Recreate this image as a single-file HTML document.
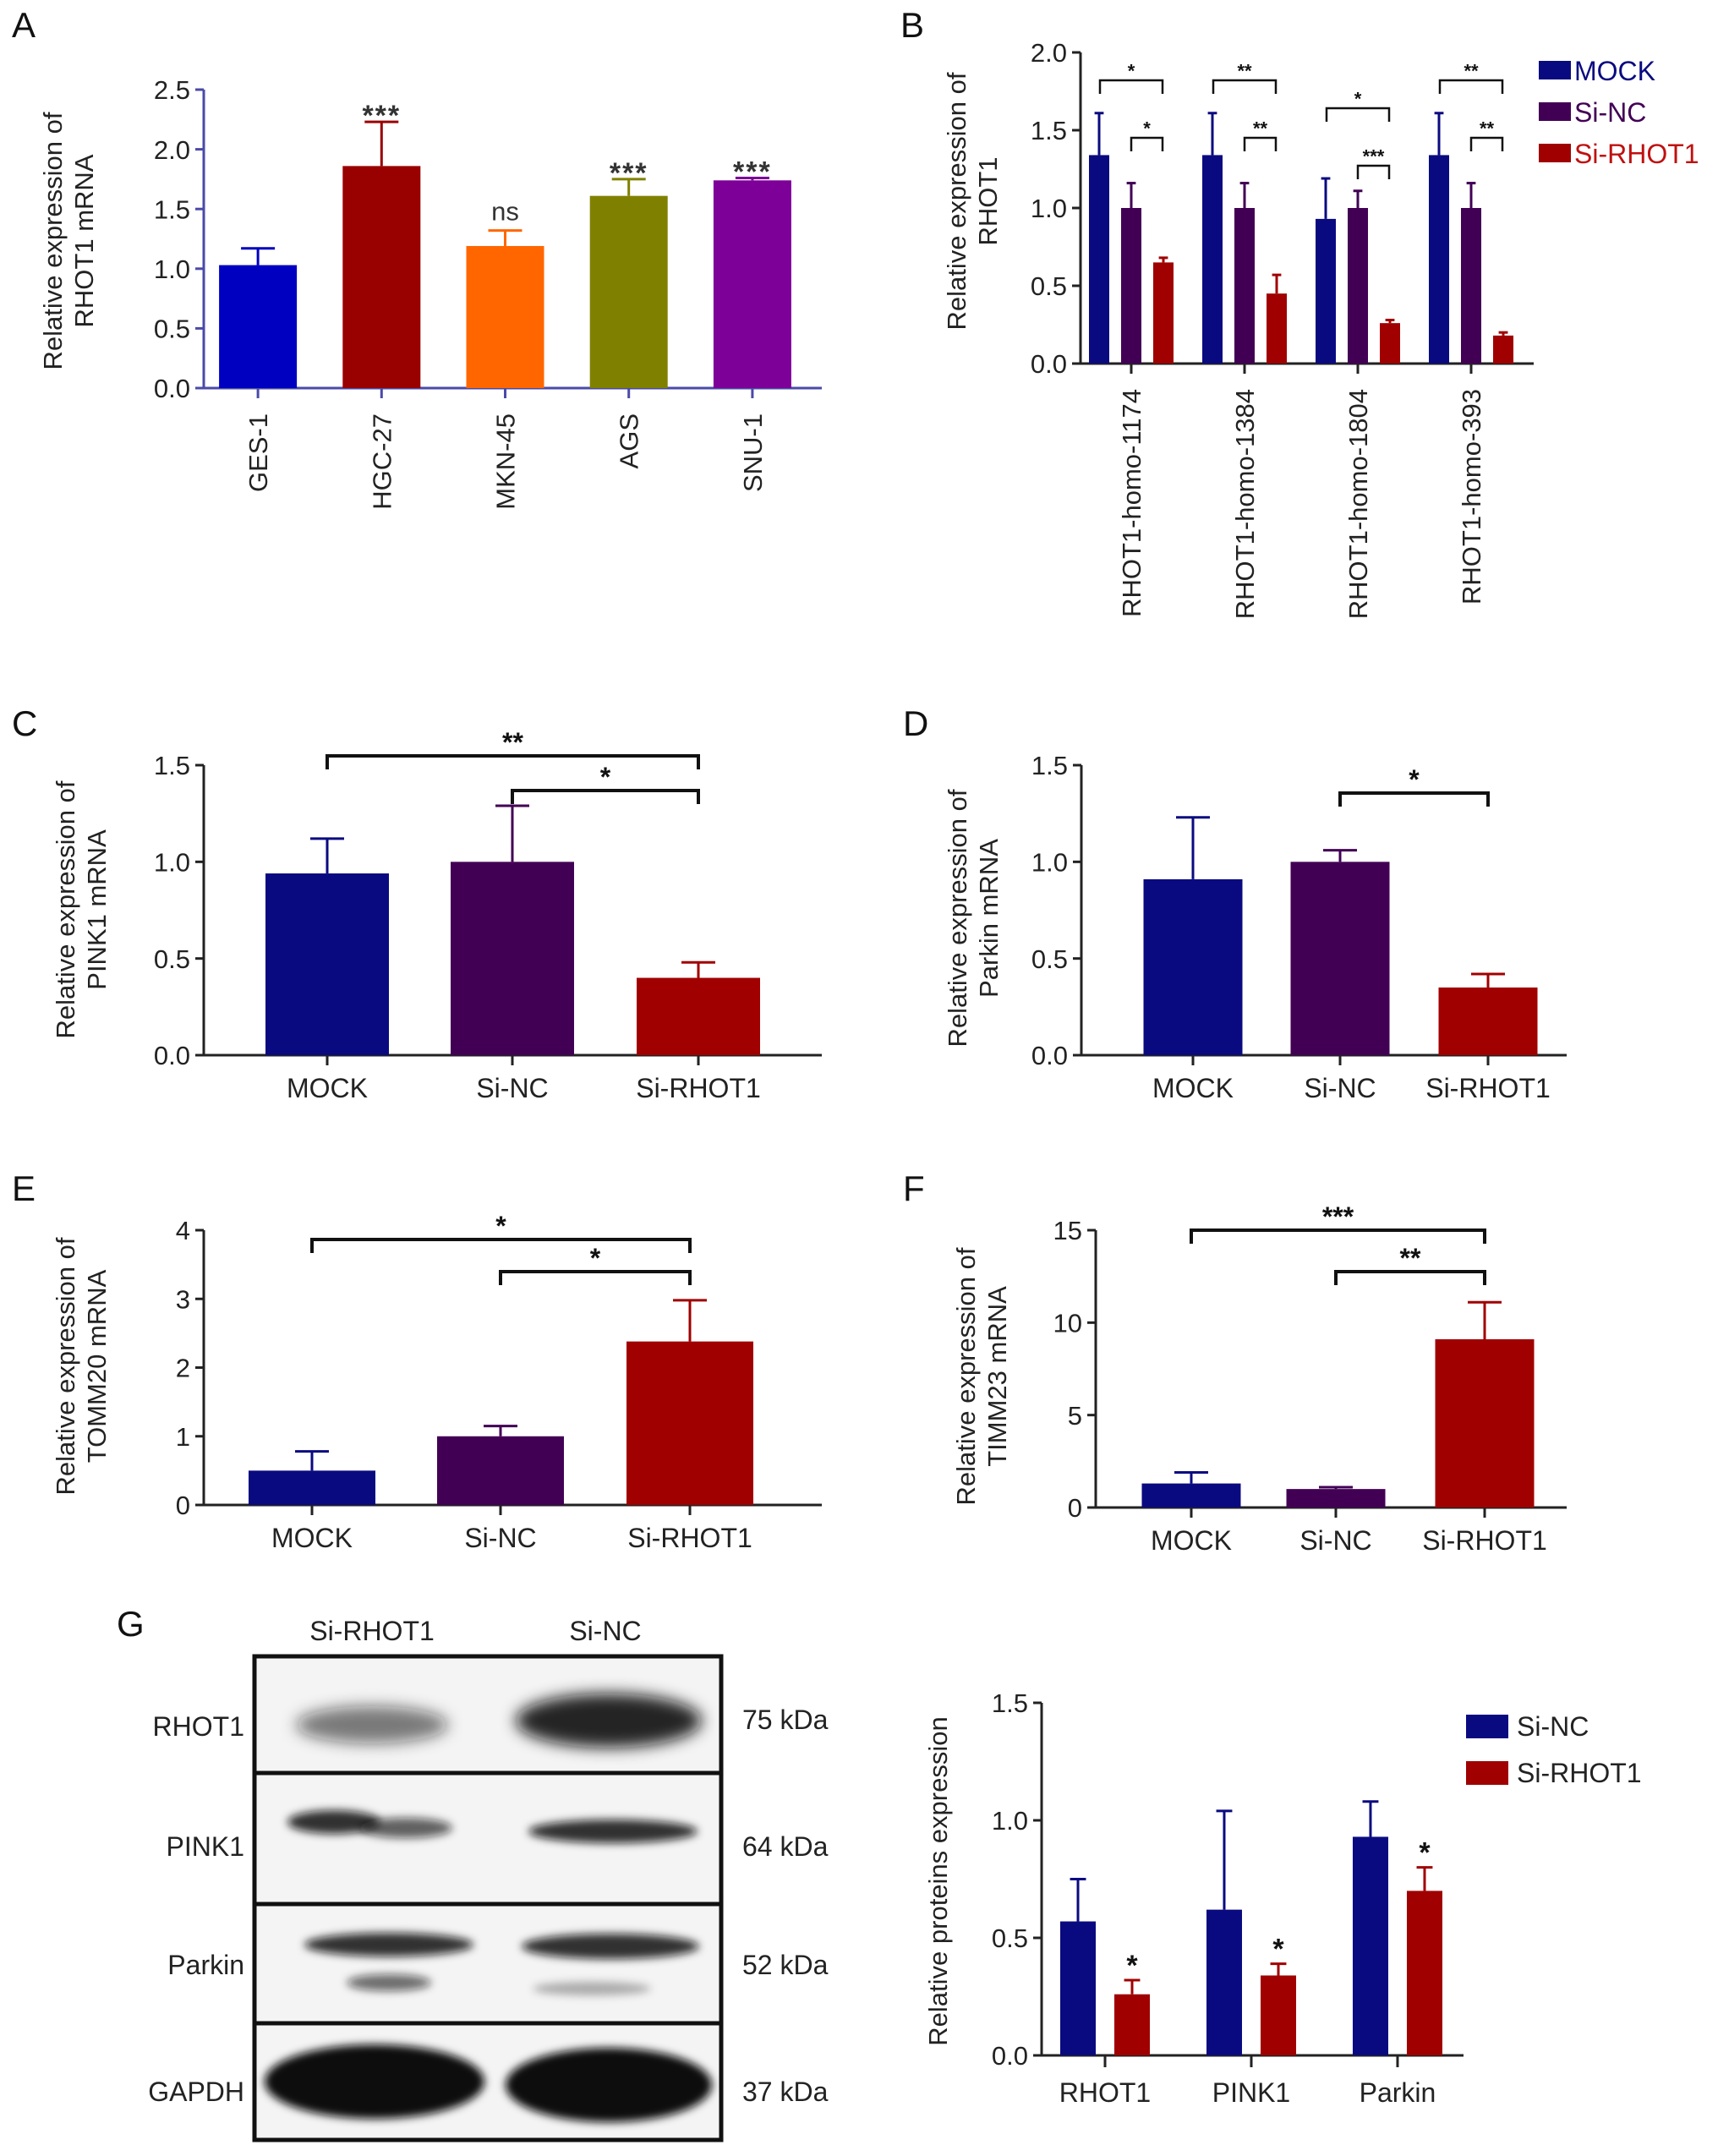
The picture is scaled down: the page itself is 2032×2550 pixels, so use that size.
<!DOCTYPE html>
<html><head><meta charset="utf-8">
<style>
html,body{margin:0;padding:0;background:#fff;}
svg{display:block;font-family:"Liberation Sans",Arial,sans-serif;}
</style></head>
<body>
<svg id="fig" width="2032" height="2550" viewBox="0 0 2032 2550" xmlns="http://www.w3.org/2000/svg">
<defs>
<filter id="blur8" x="-30%" y="-80%" width="160%" height="260%"><feGaussianBlur stdDeviation="9"/></filter>
<filter id="blur4" x="-30%" y="-80%" width="160%" height="260%"><feGaussianBlur stdDeviation="5"/></filter>
</defs>
</svg>
<script>
// ---------- DATA ----------
const catsA = ["GES-1","HGC-27","MKN-45","AGS","SNU-1"];
const valsA = [1.03,1.86,1.19,1.61,1.74];
const errA  = [1.17,2.23,1.32,1.75,1.76];
const sigA  = ["","***","ns","***","***"];
const ticksA = [0,0.5,1.0,1.5,2.0,2.5];

const catsB = ["RHOT1-homo-1174","RHOT1-homo-1384","RHOT1-homo-1804","RHOT1-homo-393"];
const mockB = [1.34,1.34,0.93,1.34];
const mockErrB = [1.61,1.61,1.19,1.61];
const ncB = [1.0,1.0,1.0,1.0];
const ncErrB = [1.16,1.16,1.11,1.16];
const siB = [0.65,0.45,0.26,0.18];
const siErrB = [0.68,0.57,0.28,0.20];
const sigOuterB = ["*","**","*","**"];
const sigInnerB = ["*","**","***","**"];
const ticksB = [0,0.5,1.0,1.5,2.0];

const cats3 = ["MOCK","Si-NC","Si-RHOT1"];
const valsC = [0.94,1.0,0.40];
const errC = [1.12,1.29,0.48];
const valsD = [0.91,1.0,0.35];
const errD = [1.23,1.06,0.42];
const valsE = [0.5,1.0,2.38];
const errE = [0.78,1.15,2.98];
const valsF = [1.3,1.0,9.1];
const errF = [1.9,1.1,11.1];
const ticksCD = [0,0.5,1.0,1.5];
const ticksE = [0,1,2,3,4];
const ticksF = [0,5,10,15];

const catsG = ["RHOT1","PINK1","Parkin"];
const ncG = [0.57,0.62,0.93];
const ncErrG = [0.75,1.04,1.08];
const siG = [0.26,0.34,0.70];
const siErrG = [0.32,0.39,0.80];
const ticksG = [0,0.5,1.0,1.5];

// ---------- HELPERS ----------
const svg = document.getElementById('fig');
const NS = "http://www.w3.org/2000/svg";
function el(tag, attrs, parent, text){
  const e = document.createElementNS(NS, tag);
  for (const k in attrs) e.setAttribute(k, attrs[k]);
  if (text !== undefined) e.textContent = text;
  (parent || svg).appendChild(e);
  return e;
}
function line(x1,y1,x2,y2,stroke,w,parent){ return el('line',{x1,y1,x2,y2,stroke,'stroke-width':w},parent); }

function axes(g, o){
  const sy = v => o.y0 - (v/o.max)*(o.y0-o.y1);
  const yl = line(o.x0,o.y0,o.x0,o.y1,o.color,3,g);
  
  
  const xl = line(o.x0-1,o.y0,o.x1,o.y0,o.color,3,g);
  
  
  o.ticks.forEach(t=>{
    line(o.x0-10,sy(t),o.x0,sy(t),o.color,3,g);
    const tx = el('text',{x:o.x0-16,y:sy(t)+o.fs*0.36,'text-anchor':'end','font-size':o.fs,fill:'#222'},g,o.fmt?o.fmt(t):String(t));
    
    
  });
  return sy;
}
function ytitle(g, x, y, lines, fs){
  const t = el('text',{transform:`translate(${x},${y}) rotate(-90)`,'text-anchor':'middle','font-size':fs,fill:'#222'},g);
  
  
  lines.forEach((s,i)=>el('tspan',{x:0,dy:i===0?0:fs*1.2},t,s));
}
function bar(g, cx, w, v, e, color, sy, name){
  const r = el('rect',{x:cx-w/2,y:sy(v),width:w,height:sy(0)-sy(v),fill:color},g);
  
  
  const eb = line(cx,sy(v),cx,sy(e),color,3,g);
  
  
  const cw = Math.min(w*0.45, 40);
  line(cx-cw/2,sy(e),cx+cw/2,sy(e),color,3,g);
}
function bracket(g, xa, xb, y, leg, label, fs, w){
  const p = el('path',{d:`M${xa},${y+leg} L${xa},${y} L${xb},${y} L${xb},${y+leg}`,fill:'none',stroke:'#111','stroke-width':w},g);
  
  
  const t = el('text',{x:(xa+xb)/2,y:y-fs*0.15,'text-anchor':'middle','font-size':fs,'font-weight':'bold',fill:'#111'},g,label);
  
  
}
function letter(x,y,s){
  const t = el('text',{x,y,'font-size':42,fill:'#111'},svg,s);
  
  
}
const fmt1 = t=>t.toFixed(1);

// ---------- PANEL A ----------
(function(){
  const g = el('g',{});  
  const o = {x0:241,x1:972,y0:459,y1:106,max:2.5,ticks:ticksA,color:'#4a4aa8',fs:31,fmt:fmt1};
  const sy = axes(g,o);
  const colors = ['#0000c0','#990000','#ff6600','#808000','#7d0099'];
  const step = (o.x1-o.x0)/catsA.length;
  catsA.forEach((c,i)=>{
    const cx = o.x0 + step*(i+0.5) - 9;
    bar(g,cx,92,valsA[i],errA[i],colors[i],sy,'bar-'+c.toLowerCase());
    line(cx,o.y0,cx,o.y0+12,o.color,3,g);
    const t = el('text',{transform:`translate(${cx+11},${o.y0+30}) rotate(-90)`,'text-anchor':'end','font-size':31,fill:'#222'},g,c);
     
    if (sigA[i]){
      const s = el('text',{x:cx,y:sy(errA[i])-(sigA[i]==='ns'?12:-4),'text-anchor':'middle','font-size':sigA[i]==='ns'?31:34,'font-weight':sigA[i]==='ns'?'normal':'bold',fill:'#333','letter-spacing':sigA[i]==='ns'?0:2},g,sigA[i]);
       
    }
  });
  ytitle(g,73,285,["Relative expression of","RHOT1 mRNA"],31);
})();
letter(14,44,"A");

// ---------- PANEL B ----------
(function(){
  const g = el('g',{});  
  const o = {x0:1278,x1:1814,y0:430,y1:62,max:2.0,ticks:ticksB,color:'#222',fs:31,fmt:fmt1};
  const sy = axes(g,o);
  const step = (o.x1-o.x0)/catsB.length;
  catsB.forEach((c,i)=>{
    const cx = o.x0 + step*(i+0.5) - 7;
    bar(g,cx-38,24,mockB[i],mockErrB[i],'#0a0a80',sy,'bar-mock');
    bar(g,cx,24,ncB[i],ncErrB[i],'#420055',sy,'bar-si-nc');
    bar(g,cx+38,24,siB[i],siErrB[i],'#a00000',sy,'bar-si-rhot1');
    line(cx,o.y0,cx,o.y0+12,o.color,3,g);
    const t = el('text',{transform:`translate(${cx+11},${o.y0+30}) rotate(-90)`,'text-anchor':'end','font-size':31,fill:'#222'},g,c);
     
    const low = mockErrB[i] < 1.3 ? 33 : 0;
    bracket(g,cx-37,cx+37,95+low,16,sigOuterB[i],22,2.5);
    bracket(g,cx,cx+37,163+low,16,sigInnerB[i],22,2.5);
  });
  ytitle(g,1142,238,["Relative expression of","RHOT1"],31);
  const leg = [["MOCK",'#0a0a80','#0a0a80'],["Si-NC",'#420055','#420055'],["Si-RHOT1",'#a00000','#c01010']];
  leg.forEach((l,i)=>{
    const y = 84 + i*49;
    const r = el('rect',{x:1820,y:y-12,width:38,height:22,fill:l[1]});
     
    const t = el('text',{x:1862,y:y+11,'font-size':32,fill:l[2]},svg,l[0]);
     
  });
})();
letter(1065,44,"B");

// ---------- C/D/E/F ----------
function simple(o, vals, errs, brackets, title, tx, ty, name){
  const g = el('g',{});  
  const sy = axes(g,o);
  const cols = ['#0a0a80','#420055','#a00000'];
  cats3.forEach((c,i)=>{
    const cx = o.cx[i];
    bar(g,cx,o.bw,vals[i],errs[i],cols[i],sy,'bar-'+c.toLowerCase());
    line(cx,o.y0,cx,o.y0+12,o.color,3,g);
    const t = el('text',{x:cx,y:o.y0+50,'text-anchor':'middle','font-size':32,fill:'#222'},g,c);
     
  });
  brackets.forEach(b=>bracket(g,o.cx[b[0]],o.cx[b[1]],b[2],16,b[3],32,4));
  ytitle(g,tx,ty,title,31);
}
simple({x0:241,x1:972,y0:1248,y1:905,max:1.5,ticks:ticksCD,color:'#222',fs:31,fmt:fmt1,cx:[387,606,826],bw:146},
  valsC,errC,[[0,2,894,"**"],[1,2,935,"*"]],["Relative expression of","PINK1 mRNA"],88,1076,'panel-c-chart');
letter(14,870,"C");
simple({x0:1279,x1:1853,y0:1248,y1:905,max:1.5,ticks:ticksCD,color:'#222',fs:31,fmt:fmt1,cx:[1411,1585,1760],bw:117},
  valsD,errD,[[1,2,938,"*"]],["Relative expression of","Parkin mRNA"],1143,1086,'panel-d-chart');
letter(1068,870,"D");
simple({x0:241,x1:972,y0:1780,y1:1455,max:4,ticks:ticksE,color:'#222',fs:31,cx:[369,592,816],bw:150},
  valsE,errE,[[0,2,1466,"*"],[1,2,1504,"*"]],["Relative expression of","TOMM20 mRNA"],88,1616,'panel-e-chart');
letter(14,1420,"E");
simple({x0:1296,x1:1853,y0:1783,y1:1455,max:15,ticks:ticksF,color:'#222',fs:31,cx:[1409,1580,1756],bw:117},
  valsF,errF,[[0,2,1455,"***"],[1,2,1504,"**"]],["Relative expression of","TIMM23 mRNA"],1153,1628,'panel-f-chart');
letter(1068,1420,"F");

// ---------- PANEL G BLOT ----------
letter(138,1935,"G");
(function(){
  const g = el('g',{});  
  const hdr = [["Si-RHOT1",440],["Si-NC",716]];
  hdr.forEach(h=>{const t=el('text',{x:h[1],y:1940,'text-anchor':'middle','font-size':32,fill:'#222'},g,h[0]);});
  const rows = [["RHOT1",1959,2097,"75 kDa",2035],["PINK1",2097,2252,"64 kDa",2185],["Parkin",2252,2393,"52 kDa",2325],["GAPDH",2393,2531,"37 kDa",2475]];
  rows.forEach(r=>{
    const rr = el('rect',{x:301,y:r[1],width:552,height:r[2]-r[1],fill:'#f4f4f4',stroke:'#111','stroke-width':5},g);
     
    const t=el('text',{x:289,y:r[4]+10+(r[0]==='RHOT1'?8:0),'text-anchor':'end','font-size':32,fill:'#222'},g,r[0]);
     
    const k=el('text',{x:878,y:r[4]+10,'font-size':32,fill:'#222'},g,r[3]);
     
  });
  const bands = [
    [440,2040,90,22,0.55,'blur8'],[720,2035,110,32,0.9,'blur8'],
    [395,2155,55,14,0.85,'blur4'],[480,2162,55,12,0.65,'blur4'],[725,2166,100,14,0.85,'blur4'],
    [460,2300,100,14,0.85,'blur4'],[722,2302,105,15,0.85,'blur4'],[460,2345,50,10,0.6,'blur4'],[700,2352,70,8,0.3,'blur4'],
    [443,2462,130,44,1,'blur4'],[720,2466,122,44,1,'blur4']
  ];
  bands.forEach(b=>{
    const e=el('ellipse',{cx:b[0],cy:b[1],rx:b[2],ry:b[3],fill:'#111','fill-opacity':b[4],filter:`url(#${b[5]})`},g);
     
  });
})();

// ---------- PANEL G CHART ----------
(function(){
  const g = el('g',{});  
  const o = {x0:1232,x1:1731,y0:2431,y1:2014,max:1.5,ticks:ticksG,color:'#222',fs:31,fmt:fmt1};
  const sy = axes(g,o);
  const step = (o.x1-o.x0)/catsG.length;
  catsG.forEach((c,i)=>{
    const cx = o.x0 + 75 + step*i*1.04;
    bar(g,cx-32,42,ncG[i],ncErrG[i],'#0a0a80',sy,'bar-si-nc');
    bar(g,cx+32,42,siG[i],siErrG[i],'#a00000',sy,'bar-si-rhot1');
    line(cx,o.y0,cx,o.y0+14,o.color,3,g);
    const t = el('text',{x:cx,y:o.y0+55,'text-anchor':'middle','font-size':32,fill:'#222'},g,c);
     
    const s = el('text',{x:cx+32,y:sy(siErrG[i])-6,'text-anchor':'middle','font-size':34,'font-weight':'bold',fill:'#111'},g,'*');
     
  });
  ytitle(g,1120,2225,["Relative proteins expression"],31);
  [["Si-NC",'#0a0a80',2042],["Si-RHOT1",'#a00000',2097]].forEach(l=>{
    const r = el('rect',{x:1734,y:l[2]-14,width:50,height:28,fill:l[1]});
     
    const t = el('text',{x:1794,y:l[2]+11,'font-size':32,fill:'#222'},svg,l[0]);
     
  });
})();
</script>
</body></html>
